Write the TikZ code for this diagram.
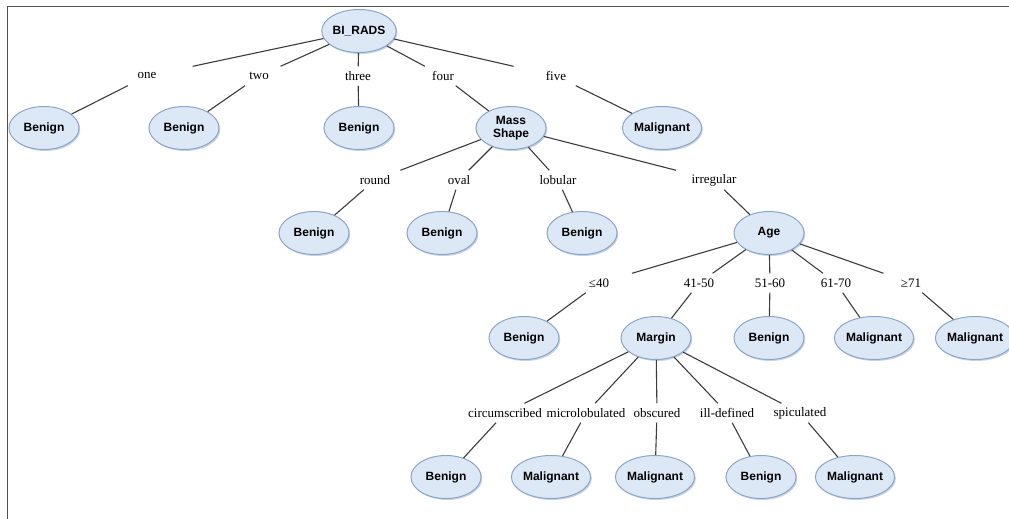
\documentclass[tikz,border=0pt]{standalone}
\usepackage{fontspec}
\setmainfont{Liberation Serif}
\newfontfamily\nodefont{Liberation Sans}
\usetikzlibrary{shapes.geometric,shadows}
\definecolor{nodefill}{RGB}{220,232,246}
\definecolor{nodeborder}{RGB}{140,165,200}
\definecolor{edgecol}{RGB}{60,60,60}
\definecolor{framecol}{RGB}{80,80,80}
\begin{document}
\begin{tikzpicture}[x=1pt,y=-1pt,
  tnode/.style={ellipse, draw=nodeborder, line width=1pt, fill=nodefill,
    minimum width=70pt, minimum height=43pt, inner sep=0pt, align=center,
    font=\nodefont\bfseries\fontsize{12}{13}\selectfont,
    drop shadow={shadow xshift=1.2pt, shadow yshift=-1.5pt, fill=nodeborder, opacity=0.5}},
  elabel/.style={rectangle, minimum width=100pt, minimum height=19pt, inner sep=0pt,
    font=\fontsize{13}{13}\selectfont},
  edge/.style={draw=edgecol, line width=1.1pt}]
\useasboundingbox (0,0) rectangle (1009,519);
\draw[line width=1.6pt, framecol] (7.5,519) -- (7.5,6.5) -- (1009,6.5);

% level 0
\node[tnode] (root) at (359,31) {BI\_RADS};
% level 1 labels
\node[elabel] (lone) at (147,76) {one};
\node[elabel] (ltwo) at (259,76) {two};
\node[elabel] (lthree) at (358,76) {three};
\node[elabel] (lfour) at (443,76) {four};
\node[elabel] (lfive) at (556,76) {five};
% level 1 nodes
\node[tnode] (b1) at (44,128) {Benign};
\node[tnode] (b2) at (184,128) {Benign};
\node[tnode] (b3) at (359,128) {Benign};
\node[tnode] (mass) at (511,128) {Mass\\Shape};
\node[tnode] (m1) at (662,128) {Malignant};
% level 2 labels
\node[elabel] (lround) at (375,180) {round};
\node[elabel] (loval) at (459,180) {oval};
\node[elabel] (llob) at (558,180) {lobular};
\node[elabel] (lirr) at (714,180) {irregular};
% level 2 nodes
\node[tnode] (b4) at (314,233) {Benign};
\node[tnode] (b5) at (442,233) {Benign};
\node[tnode] (b6) at (582,233) {Benign};
\node[tnode] (age) at (769,233) {Age};
% level 3 labels
\node[elabel] (la1) at (599,283) {≤40};
\node[elabel] (la2) at (699,283) {41-50};
\node[elabel] (la3) at (770,283) {51-60};
\node[elabel] (la4) at (836,283) {61-70};
\node[elabel] (la5) at (911,283) {≥71};
% level 3 nodes
\node[tnode] (b7) at (524,338) {Benign};
\node[tnode] (margin) at (656,338) {Margin};
\node[tnode] (b8) at (769,338) {Benign};
\node[tnode] (m2) at (874,338) {Malignant};
\node[tnode] (m3) at (975,338) {Malignant};
% level 4 labels
\node[elabel] (lc1) at (505,413) {circumscribed};
\node[elabel] (lc2) at (586,413) {microlobulated};
\node[elabel] (lc3) at (657,413) {obscured};
\node[elabel] (lc4) at (727,413) {ill-defined};
\node[elabel] (lc5) at (800,413) {spiculated};
% level 4 nodes
\node[tnode] (b9) at (446,477) {Benign};
\node[tnode] (m4) at (551,477) {Malignant};
\node[tnode] (m5) at (655,477) {Malignant};
\node[tnode] (b10) at (761,477) {Benign};
\node[tnode] (m6) at (855,477) {Malignant};

% edges
\foreach \p/\l/\c in {root/lone/b1, root/ltwo/b2, root/lthree/b3, root/lfour/mass, root/lfive/m1,
  mass/lround/b4, mass/loval/b5, mass/llob/b6, mass/lirr/age,
  age/la1/b7, age/la2/margin, age/la3/b8, age/la4/m2, age/la5/m3,
  margin/lc1/b9, margin/lc2/m4, margin/lc3/m5, margin/lc4/b10, margin/lc5/m6}
  {\draw[edge] (\p) -- (\l) -- (\c);}
\end{tikzpicture}
\end{document}
